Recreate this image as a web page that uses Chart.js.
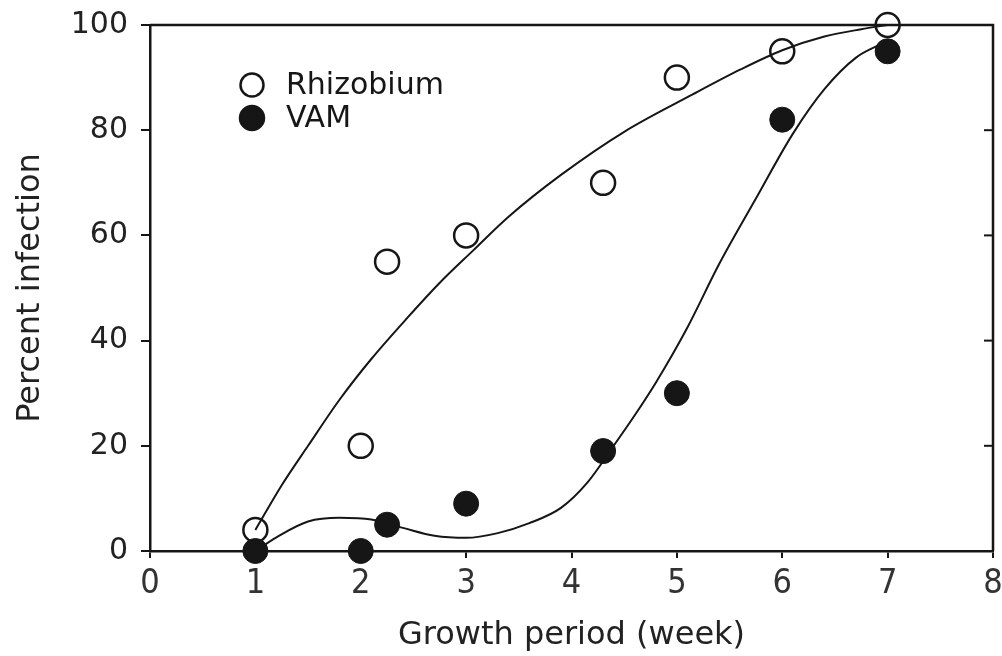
<!DOCTYPE html>
<html>
<head>
<meta charset="utf-8">
<title>Percent infection vs growth period</title>
<script src="https://cdn.jsdelivr.net/npm/chart.js@4.4.1/dist/chart.umd.min.js"></script>
<style>
    html, body { margin: 0; padding: 0; background: #fff; }
    #wrap { width: 1002px; height: 656px; }
</style>
</head>
<body>
<div id="wrap"><canvas id="infectionChart" width="1002" height="656"></canvas></div>
<script>
// observed points (week, % infection)
const rhizWeeks = [1, 2, 2.25, 3, 4.3, 5, 6, 7];
const rhizobium = [4, 20, 55, 60, 70, 90, 95, 100];
const vamWeeks = [1, 2, 2.25, 3, 4.3, 5, 6, 7];
const vam = [0, 0, 5, 9, 19, 30, 82, 95];

// fitted curves
const rhizCurveX = [1, 1.25, 1.5, 1.8, 2.1, 2.45, 2.75, 3.07, 3.4, 3.9, 4.5, 5.15, 5.6, 6, 6.4, 6.75, 7];
const rhizCurveY = [4, 12.5, 20, 28.8, 36.5, 44.5, 51, 57.2, 63.5, 71.5, 79.7, 86.8, 91.5, 95.2, 97.8, 99.2, 100];
const vamCurveX = [1, 1.2, 1.5, 1.8, 2.1, 2.4, 2.7, 3, 3.3, 3.6, 3.9, 4.15, 4.4, 4.6, 4.8, 5.1, 5.4, 5.75, 6.1, 6.4, 6.7, 6.95];
const vamCurveY = [0, 2.6, 5.6, 6.3, 6, 4.4, 2.9, 2.5, 3.4, 5.3, 8.2, 13, 20, 25.8, 32, 42.5, 54.5, 67, 79.3, 87.8, 93.8, 96.5];

const xTicks = [0, 1, 2, 3, 4, 5, 6, 7, 8];
const yTicks = [0, 20, 40, 60, 80, 100];
const legendLabels = ["Rhizobium", "VAM"];

const INK = "#161616";
const FONT = "'DejaVu Sans', 'Liberation Sans', sans-serif";

function toXY(xs, ys) {
    return xs.map((x, i) => ({ x: x, y: ys[i] }));
}

// top + right frame lines with inward ticks on the right
const framePlugin = {
    id: "frame",
    beforeDatasetsDraw(chart) {
        const { ctx, chartArea: a, scales } = chart;
        ctx.save();
        ctx.strokeStyle = INK;
        ctx.lineWidth = 2.5;
        ctx.beginPath();
        ctx.moveTo(a.left, a.top);
        ctx.lineTo(a.right, a.top);
        ctx.lineTo(a.right, a.bottom);
        ctx.stroke();
        ctx.lineWidth = 2;
        yTicks.forEach(v => {
            if (v === 0 || v === 100) return;
            const py = scales.y.getPixelForValue(v);
            ctx.beginPath();
            ctx.moveTo(a.right, py);
            ctx.lineTo(a.right - 9, py);
            ctx.stroke();
        });
        ctx.restore();
    }
};

// legend drawn inside the plot area, upper left
const insideLegend = {
    id: "insideLegend",
    afterDraw(chart) {
        const { ctx, chartArea: a } = chart;
        const x0 = a.left + 102;
        const y0 = a.top + 60;
        ctx.save();
        ctx.font = "30px " + FONT;
        ctx.textBaseline = "middle";
        legendLabels.forEach((label, i) => {
            const cy = y0 + i * 33;
            ctx.beginPath();
            ctx.arc(x0, cy, i === 0 ? 11.5 : 12, 0, Math.PI * 2);
            ctx.lineWidth = 2.5;
            ctx.strokeStyle = INK;
            if (i === 1) {
                ctx.fillStyle = INK;
                ctx.fill();
            }
            ctx.stroke();
            ctx.fillStyle = INK;
            ctx.fillText(label, x0 + 34, cy + 1);
        });
        ctx.restore();
    }
};

const ctx = document.getElementById("infectionChart").getContext("2d");

new Chart(ctx, {
    type: "scatter",
    data: {
        datasets: [
            {
                label: "Rhizobium",
                data: toXY(rhizWeeks, rhizobium),
                pointRadius: 12,
                pointBorderWidth: 2.5,
                pointBorderColor: INK,
                pointBackgroundColor: "rgba(0,0,0,0)",
                clip: false
            },
            {
                label: "VAM",
                data: toXY(vamWeeks, vam),
                pointRadius: 12.5,
                pointBorderWidth: 1,
                pointBorderColor: INK,
                pointBackgroundColor: INK,
                clip: false
            },
            {
                label: "Rhizobium fit",
                data: toXY(rhizCurveX, rhizCurveY),
                showLine: true,
                pointRadius: 0,
                borderColor: INK,
                borderWidth: 2,
                cubicInterpolationMode: "monotone",
                clip: false
            },
            {
                label: "VAM fit",
                data: toXY(vamCurveX, vamCurveY),
                showLine: true,
                pointRadius: 0,
                borderColor: INK,
                borderWidth: 2,
                cubicInterpolationMode: "monotone",
                clip: false
            }
        ]
    },
    options: {
        responsive: false,
        animation: false,
        events: [],
        layout: { autoPadding: false, padding: { top: 25, right: 9, bottom: 0, left: 0 } },
        plugins: {
            legend: { display: false },
            tooltip: { enabled: false }
        },
        scales: {
            x: {
                type: "linear",
                min: 0,
                max: 8,
                afterBuildTicks(scale) {
                    scale.ticks = xTicks.map(v => ({ value: v }));
                },
                afterFit(scale) {
                    scale.height = 105;
                    scale.paddingLeft = 0;
                    scale.paddingRight = 0;
                },
                border: { display: true, color: INK, width: 2.5 },
                grid: { drawOnChartArea: false, color: INK, lineWidth: 2, tickLength: 7 },
                ticks: {
                    color: "#333",
                    padding: 6,
                    font: { family: "'DejaVu Sans Condensed', 'DejaVu Sans', sans-serif", size: 34 }
                },
                title: {
                    display: true,
                    text: "Growth period (week)",
                    color: "#222",
                    font: { family: FONT, size: 32 },
                    padding: { top: 0, bottom: 1 }
                }
            },
            y: {
                type: "linear",
                min: 0,
                max: 100,
                afterBuildTicks(scale) {
                    scale.ticks = yTicks.map(v => ({ value: v }));
                },
                afterFit(scale) {
                    scale.width = 150;
                    scale.paddingTop = 0;
                    scale.paddingBottom = 0;
                },
                border: { display: true, color: INK, width: 2.5 },
                grid: { drawOnChartArea: false, color: INK, lineWidth: 2, tickLength: 9 },
                ticks: {
                    color: "#222",
                    padding: 13,
                    font: { family: FONT, size: 30 }
                },
                title: {
                    display: true,
                    text: "Percent infection",
                    color: "#222",
                    font: { family: FONT, size: 32 },
                    padding: { top: 11, bottom: 0 }
                }
            }
        }
    },
    plugins: [framePlugin, insideLegend]
});
</script>
</body>
</html>
